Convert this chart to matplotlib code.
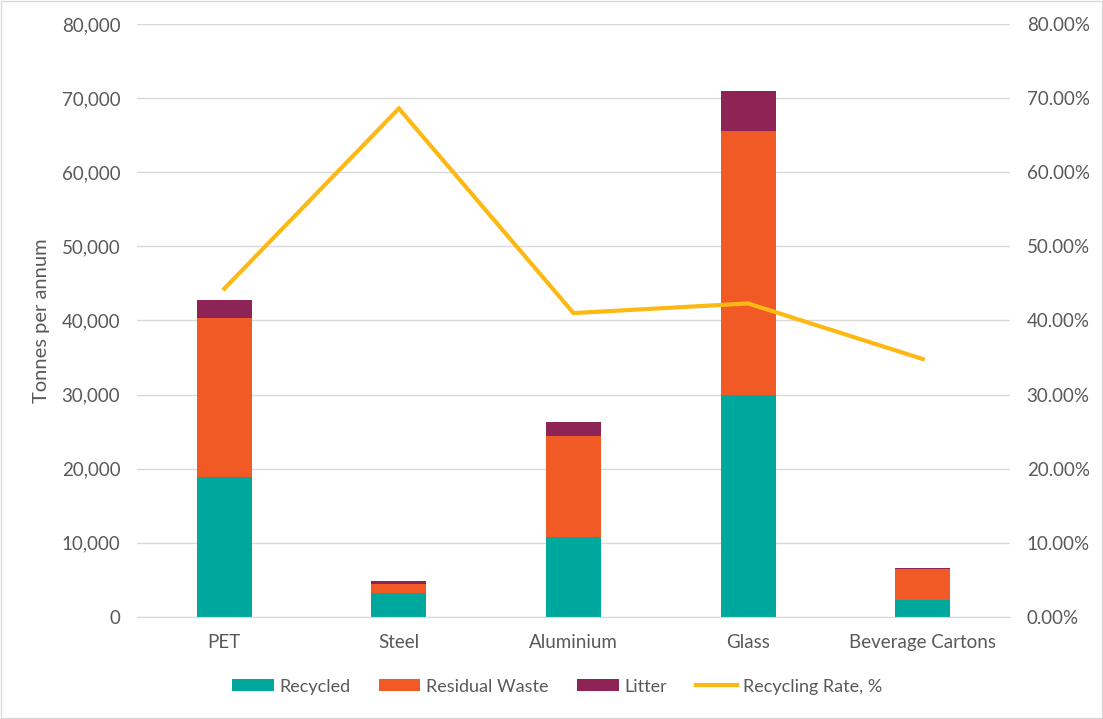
import matplotlib.pyplot as plt
import matplotlib.ticker as mticker
import numpy as np

plt.rcParams['font.family'] = ['Lato', 'DejaVu Sans']

CATEGORIES = ["PET", "Steel", "Aluminium", "Glass", "Beverage Cartons"]
RECYCLED = [18900, 3250, 10800, 29950, 2300]
RESIDUAL = [21450, 1200, 13650, 35600, 4200]
LITTER = [2450, 420, 1900, 5450, 120]
RATE = [44.3, 68.6, 41.0, 42.3, 34.8]

TEAL = "#00A79D"
ORANGE = "#F15A24"
MAROON = "#8E2456"
YELLOW = "#FDB913"
GRAY = "#595959"

fig = plt.figure(figsize=(11.03, 7.19), dpi=100)
ax = fig.add_axes([0.1242, 0.1419, 0.7915, 0.8247])
ax2 = ax.twinx()

x = np.arange(len(CATEGORIES))
w = 0.315
ax.bar(x, RECYCLED, w, color=TEAL, label="Recycled", zorder=2)
bottom = np.array(RECYCLED)
ax.bar(x, RESIDUAL, w, bottom=bottom, color=ORANGE, label="Residual Waste", zorder=2)
bottom = bottom + np.array(RESIDUAL)
ax.bar(x, LITTER, w, bottom=bottom, color=MAROON, label="Litter", zorder=2)

ax2.plot(x, RATE, color=YELLOW, lw=3, label="Recycling Rate, %", solid_joinstyle="miter")

ax.set_xlim(-0.5, len(CATEGORIES) - 0.5)
ax.set_ylim(0, 80000)
ax2.set_ylim(0, 80)
ax.set_yticks(np.arange(0, 80001, 10000))
ax2.set_yticks(np.arange(0, 81, 10))
ax.yaxis.set_major_formatter(mticker.FuncFormatter(lambda v, p: f"{v:,.0f}"))
ax2.yaxis.set_major_formatter(mticker.FuncFormatter(lambda v, p: f"{v:.2f}%"))
ax.set_xticks(x)
ax.set_xticklabels(CATEGORIES)

ax.grid(axis="y", color="#D9D9D9", lw=1, zorder=0)
for a in (ax, ax2):
    for s in a.spines.values():
        s.set_visible(False)
    a.tick_params(length=0, labelsize=13.5, colors=GRAY, pad=12)
ax.spines["bottom"].set_visible(True)
ax.spines["bottom"].set_color("#D9D9D9")
ax.tick_params(axis="x", pad=12)
ax.set_ylabel("Tonnes per annum", fontsize=14.5, color=GRAY, labelpad=8)

h1, l1 = ax.get_legend_handles_labels()
h2, l2 = ax2.get_legend_handles_labels()
fig.legend(h1 + h2, l1 + l2, loc="center", bbox_to_anchor=(0.505, 0.045), ncol=4,
           frameon=False, fontsize=13, labelcolor=GRAY, handlelength=2.3,
           handleheight=0.65, handletextpad=0.3, columnspacing=1.6)

fig.patches.append(plt.Rectangle((0.001, 0.002), 0.998, 0.996, transform=fig.transFigure,
                                 fill=False, edgecolor="#D9D9D9", lw=1))

fig.savefig("out.png", dpi=100)
